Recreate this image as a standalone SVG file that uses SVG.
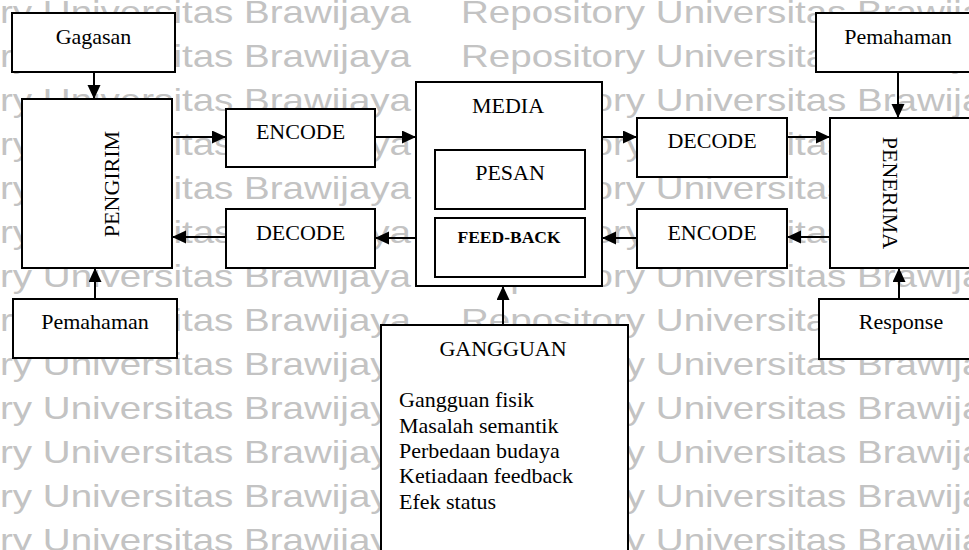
<svg xmlns="http://www.w3.org/2000/svg" width="969" height="550" viewBox="0 0 969 550">
  <style>
    .wm { font-family: "Liberation Sans", Arial, sans-serif; font-size: 32px; fill: #c3c3c3; }
    .box { fill: #ffffff; stroke: #000000; stroke-width: 2; }
    .lbl { font-family: "Liberation Serif", "Times New Roman", serif; font-size: 22px; fill: #000000; }
    .mid { text-anchor: middle; }
    .bold { font-weight: bold; font-size: 17.5px; }
    .conn line { stroke: #000000; stroke-width: 2; marker-end: url(#arrow); }
  </style>
  <defs>
    <marker id="arrow" markerUnits="userSpaceOnUse" markerWidth="14" markerHeight="14" refX="14" refY="6.5" orient="auto">
      <path d="M0,0 L14,6.5 L0,13 Z" fill="#000000"/>
    </marker>
    <g id="wmrow">
      <text class="wm" x="-152" textLength="563" lengthAdjust="spacingAndGlyphs">Repository Universitas Brawijaya</text>
      <text class="wm" x="461" textLength="563" lengthAdjust="spacingAndGlyphs">Repository Universitas Brawijaya</text>
    </g>
  </defs>

  <rect x="0" y="0" width="969" height="550" fill="#ffffff"/>

  <!-- background repository watermark -->
  <g id="watermark">
    <use href="#wmrow" y="23"/>
    <use href="#wmrow" y="67"/>
    <use href="#wmrow" y="111"/>
    <use href="#wmrow" y="155"/>
    <use href="#wmrow" y="199"/>
    <use href="#wmrow" y="243"/>
    <use href="#wmrow" y="287"/>
    <use href="#wmrow" y="331"/>
    <use href="#wmrow" y="375"/>
    <use href="#wmrow" y="419"/>
    <use href="#wmrow" y="463"/>
    <use href="#wmrow" y="507"/>
    <use href="#wmrow" y="551"/>
  </g>

  <!-- connectors -->
  <g id="connectors" class="conn">
    <line x1="94" y1="72" x2="94" y2="99"/>
    <line x1="172" y1="137" x2="226" y2="137"/>
    <line x1="375" y1="137" x2="416" y2="137"/>
    <line x1="602" y1="137" x2="637" y2="137"/>
    <line x1="787" y1="137" x2="830" y2="137"/>
    <line x1="898" y1="72" x2="898" y2="118"/>
    <line x1="830" y1="237" x2="787" y2="237"/>
    <line x1="637" y1="238" x2="602" y2="238"/>
    <line x1="416" y1="238" x2="375" y2="238"/>
    <line x1="226" y1="237" x2="172" y2="237"/>
    <line x1="95" y1="299" x2="95" y2="268"/>
    <line x1="899" y1="299" x2="899" y2="268"/>
    <line x1="503" y1="325" x2="503" y2="286"/>
  </g>

  <!-- sender side -->
  <g id="gagasan">
    <rect class="box" x="12" y="13" width="163" height="59"/>
    <text class="lbl mid" x="93.5" y="44">Gagasan</text>
  </g>
  <g id="pengirim">
    <rect class="box" x="22" y="99" width="150" height="169"/>
    <text class="lbl mid" transform="translate(119 184) rotate(-90)">PENGIRIM</text>
  </g>
  <g id="pemahaman-pengirim">
    <rect class="box" x="13" y="299" width="164" height="59"/>
    <text class="lbl mid" x="95" y="329">Pemahaman</text>
  </g>
  <g id="encode-pengirim">
    <rect class="box" x="226" y="109" width="149" height="58"/>
    <text class="lbl mid" x="300.5" y="139">ENCODE</text>
  </g>
  <g id="decode-pengirim">
    <rect class="box" x="226" y="209" width="149" height="59"/>
    <text class="lbl mid" x="300.5" y="240">DECODE</text>
  </g>

  <!-- channel -->
  <g id="media">
    <rect class="box" x="416" y="82" width="186" height="204"/>
    <text class="lbl mid" x="508" y="113">MEDIA</text>
  </g>
  <g id="pesan">
    <rect class="box" x="435" y="150" width="150" height="59"/>
    <text class="lbl mid" x="510" y="180">PESAN</text>
  </g>
  <g id="feedback">
    <rect class="box" x="435" y="218" width="150" height="59"/>
    <text class="lbl mid bold" x="509" y="243">FEED-BACK</text>
  </g>
  <g id="gangguan">
    <rect class="box" x="381" y="325" width="247" height="240"/>
    <text class="lbl mid" x="503" y="356">GANGGUAN</text>
    <text class="lbl" x="399" y="407">Gangguan fisik</text>
    <text class="lbl" x="399" y="433">Masalah semantik</text>
    <text class="lbl" x="399" y="458">Perbedaan budaya</text>
    <text class="lbl" x="399" y="483">Ketiadaan feedback</text>
    <text class="lbl" x="399" y="509">Efek status</text>
  </g>

  <!-- receiver side -->
  <g id="decode-penerima">
    <rect class="box" x="637" y="118" width="150" height="59"/>
    <text class="lbl mid" x="712" y="148">DECODE</text>
  </g>
  <g id="encode-penerima">
    <rect class="box" x="637" y="209" width="150" height="59"/>
    <text class="lbl mid" x="712" y="240">ENCODE</text>
  </g>
  <g id="pemahaman-penerima">
    <rect class="box" x="816" y="13" width="170" height="59"/>
    <text class="lbl mid" x="898" y="44">Pemahaman</text>
  </g>
  <g id="penerima">
    <rect class="box" x="830" y="118" width="160" height="150"/>
    <text class="lbl mid" transform="translate(883 193) rotate(90)">PENERIMA</text>
  </g>
  <g id="response">
    <rect class="box" x="819" y="299" width="170" height="60"/>
    <text class="lbl mid" x="901" y="329">Response</text>
  </g>
</svg>
